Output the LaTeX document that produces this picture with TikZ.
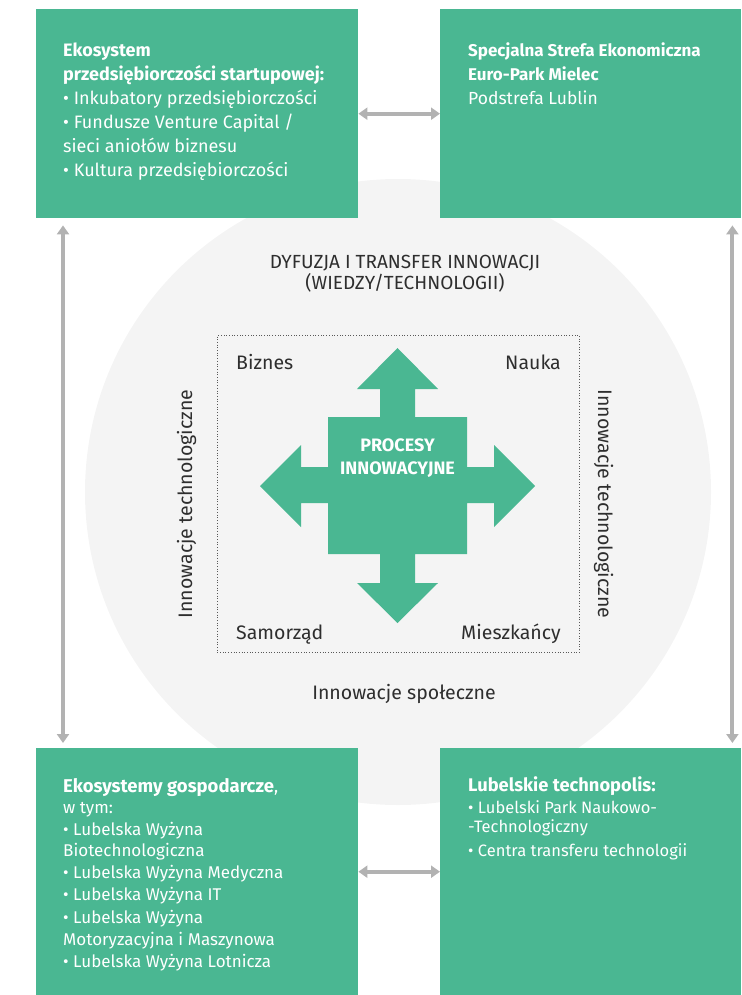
\documentclass[tikz,border=0pt]{standalone}
\usepackage{fontspec}
\setmainfont{Fira Sans}
\usetikzlibrary{arrows.meta}
\definecolor{boxgreen}{HTML}{4AB792}
\definecolor{circgray}{HTML}{F4F4F4}
\definecolor{arrgray}{HTML}{B2B2B2}
\definecolor{txtdark}{HTML}{2E2E2E}
\tikzset{
  greenbox/.style={fill=boxgreen, draw=none, inner sep=0pt, anchor=north west},
  boxtext/.style={text=white, align=left, inner sep=0pt, anchor=north west},
  link/.style={draw=arrgray, line width=4pt, {Triangle[width=12pt,length=9pt]}-{Triangle[width=12pt,length=9pt]}},
  midtext/.style={text=txtdark, inner sep=0pt, font=\fontsize{19.5}{22}\selectfont},
}
\begin{document}
\begin{tikzpicture}[x=1pt,y=-1pt]
\useasboundingbox (0,0) rectangle (741,995);
% background circle
\fill[circgray] (398,492) circle (313);
% boxes
\node[greenbox, minimum width=322pt, minimum height=209pt] (tl) at (36,9) {};
\node[greenbox, minimum width=301pt, minimum height=209pt] (tr) at (440,9) {};
\node[greenbox, minimum width=322pt, minimum height=247pt] (bl) at (36,748) {};
\node[greenbox, minimum width=301pt, minimum height=247pt] (br) at (440,748) {};
% box texts
\node[boxtext, font=\fontsize{18}{24}\selectfont] (tltext) at (63,42.5)
  {\textbf{Ekosystem}\\ \textbf{przedsiębiorczości startupowej:}\\ • Inkubatory przedsiębiorczości\\ • Fundusze Venture Capital /\\ sieci aniołów biznesu\\ • Kultura przedsiębiorczości};
\node[boxtext, font=\fontsize{17.5}{24}\selectfont] (trtext) at (468,42.5)
  {{\fontsize{17}{24}\selectfont\textbf{Specjalna Strefa Ekonomiczna}}\\ {\fontsize{17}{24}\selectfont\textbf{Euro-Park Mielec}}\\ Podstrefa Lublin};
\node[boxtext, font=\fontsize{17}{22.3}\selectfont] (bltext) at (63,778)
  {{\fontsize{18.5}{22.3}\selectfont\textbf{Ekosystemy gospodarcze}},\\[-1pt] w tym:\\ • Lubelska Wyżyna\\[-2pt] Biotechnologiczna\\ • Lubelska Wyżyna Medyczna\\ • Lubelska Wyżyna IT\\ • Lubelska Wyżyna\\ Motoryzacyjna i Maszynowa\\ • Lubelska Wyżyna Lotnicza};
\node[boxtext, font=\fontsize{16.5}{21.5}\selectfont] (brtext) at (468,776.5)
  {{\fontsize{18.3}{21.5}\selectfont\textbf{Lubelskie technopolis:}}\\ • Lubelski Park Naukowo-\\[-2.5pt] -Technologiczny\\[2.5pt] • Centra transferu technologii};
% connectors
\draw[link] (tl.east) -- (tr.west);
\draw[link] (bl.east) -- (br.west);
\draw[link, shorten <=7pt, shorten >=5pt] ([xshift=27pt]tl.south west) -- ([xshift=27pt]bl.north west);
\draw[link, shorten <=7pt, shorten >=5pt] ([xshift=-9pt]tr.south east) -- ([xshift=-9pt]br.north east);
% dotted frame
\node[draw=txtdark!80, dotted, line width=0.7pt, inner sep=0pt, minimum width=362pt, minimum height=317pt, anchor=north west] (frame) at (217,335) {};
% cross arrow
\fill[boxgreen] (397.5,348) -- (438,389) -- (415,389) -- (415,417) -- (467,417) -- (467,467) -- (494,467) -- (494,445) -- (535,486) -- (494,527) -- (494,503) -- (467,503) -- (467,554) -- (415,554) -- (415,583) -- (438,583) -- (397.5,623) -- (357,583) -- (380,583) -- (380,554) -- (328,554) -- (328,503) -- (301,503) -- (301,527) -- (260,486) -- (301,445) -- (301,467) -- (328,467) -- (328,417) -- (380,417) -- (380,389) -- (357,389) -- cycle;
\node[text=white, align=center, inner sep=0pt, anchor=base, font=\fontsize{18}{23}\selectfont\bfseries] (proc) at (397.5,474) {PROCESY\\ INNOWACYJNE};
% labels
\node[midtext, anchor=base west] (biz) at (236,369) {Biznes};
\node[midtext, anchor=base east] (nau) at (561,369) {Nauka};
\node[midtext, anchor=base west] (sam) at (236,639) {Samorząd};
\node[midtext, anchor=base east] (mie) at (561,639) {Mieszkańcy};
\node[midtext, align=center, anchor=base, font=\fontsize{19}{21}\selectfont] (dyf) at (405,289) {DYFUZJA I TRANSFER INNOWACJI\\ (WIEDZY/TECHNOLOGII)};
\node[midtext, anchor=base] (spol) at (404,699) {Innowacje społeczne};
\node[midtext, anchor=base, rotate=90] (techl) at (192,504) {Innowacje technologiczne};
\node[midtext, anchor=base, rotate=-90] (techr) at (598,504) {Innowacje technologiczne};
\end{tikzpicture}
\end{document}
